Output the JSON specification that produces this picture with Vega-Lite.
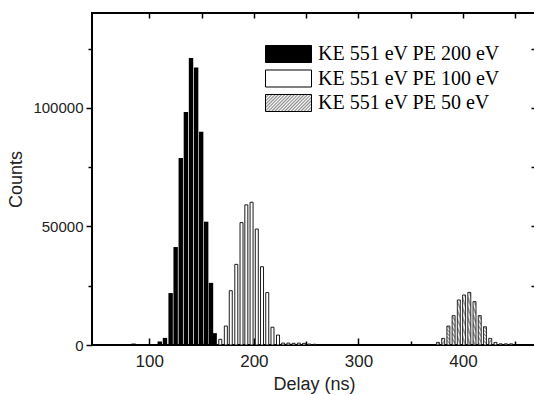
{
  "$schema": "https://vega.github.io/schema/vega-lite/v6.json",
  "autosize": {"type": "none"},
  "padding": {"left": 92, "top": 13, "right": 0, "bottom": 50},
  "width": 444,
  "height": 332,
  "background": "white",
  "config": {
    "view": {"stroke": "black", "strokeWidth": 2},
    "axis": {"domain": false, "grid": false, "tickColor": "black", "tickWidth": 1.5, "labelFont": "Liberation Sans", "labelColor": "#222", "titleFont": "Liberation Sans", "titleColor": "#222", "titleFontWeight": "normal"},
    "legend": {"labelFont": "Liberation Serif", "labelFontSize": 20, "labelColor": "black", "labelLimit": 0}
  },
  "data": {"values": [
    {"delay": 85, "count": 600, "series": "KE 551 eV PE 200 eV"},
    {"delay": 110, "count": 1500, "series": "KE 551 eV PE 200 eV"},
    {"delay": 115, "count": 3000, "series": "KE 551 eV PE 200 eV"},
    {"delay": 120.4, "count": 21900, "series": "KE 551 eV PE 200 eV"},
    {"delay": 125.2, "count": 41300, "series": "KE 551 eV PE 200 eV"},
    {"delay": 130.1, "count": 78900, "series": "KE 551 eV PE 200 eV"},
    {"delay": 135, "count": 98300, "series": "KE 551 eV PE 200 eV"},
    {"delay": 139.9, "count": 121000, "series": "KE 551 eV PE 200 eV"},
    {"delay": 144.8, "count": 117000, "series": "KE 551 eV PE 200 eV"},
    {"delay": 149.6, "count": 89900, "series": "KE 551 eV PE 200 eV"},
    {"delay": 154.4, "count": 52000, "series": "KE 551 eV PE 200 eV"},
    {"delay": 159, "count": 26200, "series": "KE 551 eV PE 200 eV"},
    {"delay": 162.5, "count": 5000, "series": "KE 551 eV PE 200 eV"},
    {"delay": 167.9, "count": 2400, "series": "KE 551 eV PE 100 eV"},
    {"delay": 173.2, "count": 8000, "series": "KE 551 eV PE 100 eV"},
    {"delay": 177.9, "count": 22900, "series": "KE 551 eV PE 100 eV"},
    {"delay": 183.2, "count": 34000, "series": "KE 551 eV PE 100 eV"},
    {"delay": 188.2, "count": 51600, "series": "KE 551 eV PE 100 eV"},
    {"delay": 192.8, "count": 59100, "series": "KE 551 eV PE 100 eV"},
    {"delay": 197.8, "count": 60200, "series": "KE 551 eV PE 100 eV"},
    {"delay": 202.8, "count": 48900, "series": "KE 551 eV PE 100 eV"},
    {"delay": 207.8, "count": 33000, "series": "KE 551 eV PE 100 eV"},
    {"delay": 212.8, "count": 22100, "series": "KE 551 eV PE 100 eV"},
    {"delay": 217.8, "count": 7500, "series": "KE 551 eV PE 100 eV"},
    {"delay": 223.1, "count": 4200, "series": "KE 551 eV PE 100 eV"},
    {"delay": 228, "count": 800, "series": "KE 551 eV PE 100 eV"},
    {"delay": 233, "count": 800, "series": "KE 551 eV PE 100 eV"},
    {"delay": 238, "count": 700, "series": "KE 551 eV PE 100 eV"},
    {"delay": 243, "count": 800, "series": "KE 551 eV PE 100 eV"},
    {"delay": 248, "count": 700, "series": "KE 551 eV PE 100 eV"},
    {"delay": 253, "count": 400, "series": "KE 551 eV PE 100 eV"},
    {"delay": 258, "count": 300, "series": "KE 551 eV PE 100 eV"},
    {"delay": 376, "count": 1100, "series": "KE 551 eV PE 50 eV"},
    {"delay": 381, "count": 2800, "series": "KE 551 eV PE 50 eV"},
    {"delay": 386, "count": 8000, "series": "KE 551 eV PE 50 eV"},
    {"delay": 391, "count": 12400, "series": "KE 551 eV PE 50 eV"},
    {"delay": 396, "count": 19000, "series": "KE 551 eV PE 50 eV"},
    {"delay": 401, "count": 21100, "series": "KE 551 eV PE 50 eV"},
    {"delay": 406, "count": 22200, "series": "KE 551 eV PE 50 eV"},
    {"delay": 411, "count": 18300, "series": "KE 551 eV PE 50 eV"},
    {"delay": 416, "count": 12400, "series": "KE 551 eV PE 50 eV"},
    {"delay": 421, "count": 7700, "series": "KE 551 eV PE 50 eV"},
    {"delay": 426, "count": 2800, "series": "KE 551 eV PE 50 eV"},
    {"delay": 431, "count": 1100, "series": "KE 551 eV PE 50 eV"},
    {"delay": 436, "count": 500, "series": "KE 551 eV PE 50 eV"},
    {"delay": 441, "count": 500, "series": "KE 551 eV PE 50 eV"},
    {"delay": 446, "count": 500, "series": "KE 551 eV PE 50 eV"}
  ]},
  "resolve": {"axis": {"x": "independent", "y": "independent"}},
  "layer": [
    {
      "transform": [{"filter": "datum.series === 'KE 551 eV PE 200 eV'"}],
      "mark": {"type": "bar", "size": 4.4},
      "encoding": {
        "x": {"field": "delay", "type": "quantitative", "scale": {"domain": [50, 465], "nice": false, "zero": false},
          "axis": {"orient": "bottom", "values": [100, 200, 300, 400], "tickSize": -7, "labelPadding": 15, "labelFontSize": 17, "title": "Delay (ns)", "titleFontSize": 18, "titlePadding": 6}},
        "y": {"field": "count", "type": "quantitative", "scale": {"domain": [0, 140000], "nice": false},
          "axis": {"orient": "left", "values": [0, 50000, 100000], "format": "d", "tickSize": 6, "labelPadding": 3, "labelFontSize": 15, "title": "Counts", "titleFontSize": 18, "titlePadding": 7}},
        "fill": {
          "field": "series", "type": "nominal",
          "scale": {
            "domain": ["KE 551 eV PE 200 eV", "KE 551 eV PE 100 eV", "KE 551 eV PE 50 eV"],
            "range": ["black", "white", {"expr": "{gradient: 'linear', x1: 0, y1: 0, x2: 1.37, y2: 0.5, stops: [{offset: 0, color: '#8a8a8a'}, {offset: 0.023, color: 'white'}, {offset: 0.045, color: '#8a8a8a'}, {offset: 0.068, color: 'white'}, {offset: 0.091, color: '#8a8a8a'}, {offset: 0.114, color: 'white'}, {offset: 0.136, color: '#8a8a8a'}, {offset: 0.159, color: 'white'}, {offset: 0.182, color: '#8a8a8a'}, {offset: 0.205, color: 'white'}, {offset: 0.227, color: '#8a8a8a'}, {offset: 0.25, color: 'white'}, {offset: 0.273, color: '#8a8a8a'}, {offset: 0.295, color: 'white'}, {offset: 0.318, color: '#8a8a8a'}, {offset: 0.341, color: 'white'}, {offset: 0.364, color: '#8a8a8a'}, {offset: 0.386, color: 'white'}, {offset: 0.409, color: '#8a8a8a'}, {offset: 0.432, color: 'white'}, {offset: 0.455, color: '#8a8a8a'}, {offset: 0.477, color: 'white'}, {offset: 0.5, color: '#8a8a8a'}, {offset: 0.523, color: 'white'}, {offset: 0.545, color: '#8a8a8a'}, {offset: 0.568, color: 'white'}, {offset: 0.591, color: '#8a8a8a'}, {offset: 0.614, color: 'white'}, {offset: 0.636, color: '#8a8a8a'}, {offset: 0.659, color: 'white'}, {offset: 0.682, color: '#8a8a8a'}, {offset: 0.705, color: 'white'}, {offset: 0.727, color: '#8a8a8a'}, {offset: 0.75, color: 'white'}, {offset: 0.773, color: '#8a8a8a'}, {offset: 0.795, color: 'white'}, {offset: 0.818, color: '#8a8a8a'}, {offset: 0.841, color: 'white'}, {offset: 0.864, color: '#8a8a8a'}, {offset: 0.886, color: 'white'}, {offset: 0.909, color: '#8a8a8a'}, {offset: 0.932, color: 'white'}, {offset: 0.955, color: '#8a8a8a'}, {offset: 0.977, color: 'white'}, {offset: 1, color: '#8a8a8a'}]}"}]
          },
          "legend": {
            "title": null, "orient": "none", "legendX": 173, "legendY": 31, "padding": 0,
            "symbolType": "M-1,-0.37H1V0.37H-1Z", "symbolSize": 2116, "labelOffset": 6, "rowPadding": 4.5, "clipHeight": 20,
            "symbolStrokeColor": "black", "symbolStrokeWidth": 1
          }
        }
      }
    },
    {
      "transform": [{"filter": "datum.series === 'KE 551 eV PE 100 eV'"}],
      "mark": {"type": "bar", "size": 3, "stroke": "black", "strokeWidth": 0.9},
      "encoding": {
        "x": {"field": "delay", "type": "quantitative",
          "axis": {"orient": "bottom", "values": [150, 250, 350, 450], "tickSize": -4, "labels": false, "title": null}},
        "y": {"field": "count", "type": "quantitative",
          "axis": {"orient": "left", "values": [25000, 75000, 125000], "tickSize": 4, "labels": false, "title": null}},
        "fill": {"field": "series", "type": "nominal"}
      }
    },
    {
      "transform": [{"filter": "datum.series === 'KE 551 eV PE 50 eV'"}],
      "mark": {"type": "bar", "size": 3, "stroke": "black", "strokeWidth": 0.8},
      "encoding": {
        "x": {"field": "delay", "type": "quantitative",
          "axis": {"orient": "top", "values": [100, 150, 200, 250, 300, 350, 400, 450], "tickSize": -5, "labels": false, "title": null}},
        "y": {"field": "count", "type": "quantitative",
          "axis": {"orient": "right", "values": [25000, 50000, 75000, 100000, 125000], "tickSize": -5, "labels": false, "title": null}},
        "fill": {"field": "series", "type": "nominal"}
      }
    }
  ]
}
